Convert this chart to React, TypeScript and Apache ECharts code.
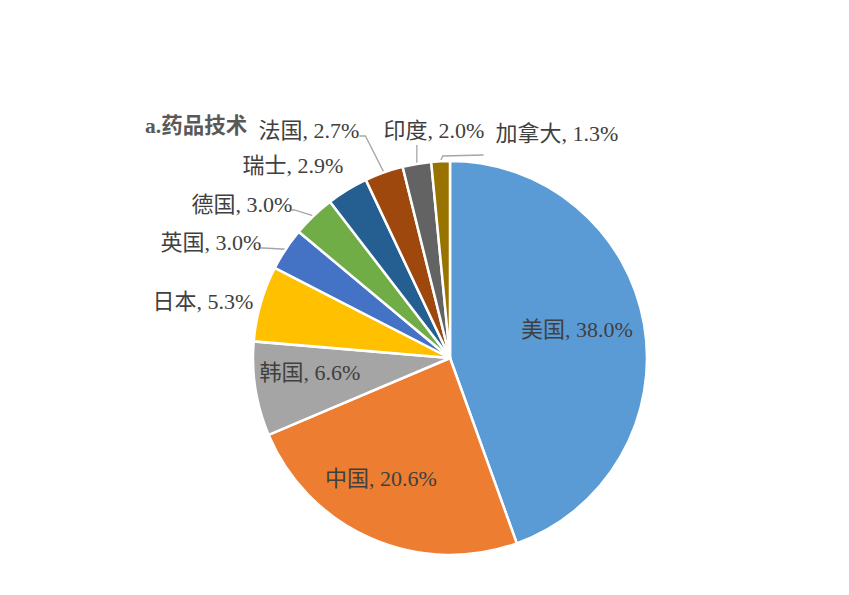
import { useEffect, useRef } from 'react'
import * as echarts from 'echarts'

// 各国占比（%）
const countries = ['美国', '中国', '韩国', '日本', '英国', '德国', '瑞士', '法国', '印度', '加拿大']
const shares = [38.0, 20.6, 6.6, 5.3, 3.0, 3.0, 2.9, 2.7, 2.0, 1.3]

// Office 默认配色
const colors = ['#5B9BD5', '#ED7D31', '#A5A5A5', '#FFC000', '#4472C4', '#70AD47', '#255E91', '#9E480E', '#636363', '#997300']

// 标签手动摆放位置（文字中心）
const labelPos: [number, number][] = [
  [577, 329], [381, 478], [310, 372], [203, 301], [211, 242],
  [242, 204], [293, 165], [309, 130], [434, 130], [557, 133],
]
// 引导线样式：none 无线，right 从文字右端连出，below 从文字下方竖直连出，under 文字左下方横线
const leader = ['none', 'none', 'none', 'none', 'right', 'right', 'none', 'rightDown', 'below', 'under']

const font = '"Liberation Serif", "Times New Roman", "Noto Sans CJK SC", serif'

export default function App() {
  const chartRef = useRef<HTMLDivElement>(null)

  useEffect(() => {
    if (!chartRef.current) return
    document.body.style.margin = '0'
    const chart = echarts.init(chartRef.current, undefined, { renderer: 'svg' })

    chart.setOption({
      animation: false,
      backgroundColor: '#fff',
      title: {
        text: 'a.药品技术',
        left: 140,
        top: 110,
        textStyle: { fontFamily: font, fontSize: 21.5, fontWeight: 'bold', color: '#595959' },
      },
      series: [
        {
          type: 'pie',
          center: [450, 358],
          radius: 197,
          startAngle: 90,
          clockwise: true,
          itemStyle: { borderColor: '#fff', borderWidth: 2.5 },
          label: {
            formatter: (p: any) => `${p.name}, ${p.value.toFixed(1)}%`,
            fontFamily: font,
            fontSize: 22,
            color: '#404040',
          },
          labelLine: { show: true, length: 5, length2: 5, lineStyle: { color: '#A6A6A6', width: 1.3 } },
          labelLayout: (p: any) => {
            const i = p.dataIndex
            const [x, y] = labelPos[i]
            const out: any = { x, y, align: 'center', verticalAlign: 'middle' }
            const pts = p.labelLinePoints
            if (pts && leader[i] !== 'none') {
              const a = pts[0]
              const w = p.labelRect.width
              const h = p.labelRect.height
              const right = x + w / 2
              const left = x - w / 2
              if (leader[i] === 'right') out.labelLinePoints = [a, [right + 2, y + 6], [right - 1, y + 6]]
              if (leader[i] === 'rightDown') out.labelLinePoints = [a, [right + 6, y + 6], [right, y + 6]]
              if (leader[i] === 'below') out.labelLinePoints = [a, [a[0], y + h / 2 + 4], [a[0], y + h / 2 + 4]]
              if (leader[i] === 'under') out.labelLinePoints = [a, [a[0] + 2, y + 23], [left - 12, y + 22]]
            }
            return out
          },
          data: countries.map((name, i) => ({
            name,
            value: shares[i],
            itemStyle: { color: colors[i] },
            label: { position: i < 3 ? 'inside' : 'outside' },
            labelLine: { show: leader[i] !== 'none' },
          })),
        },
      ],
    })

    return () => chart.dispose()
  }, [])

  return <div ref={chartRef} style={{ width: 849, height: 595 }} />
}
